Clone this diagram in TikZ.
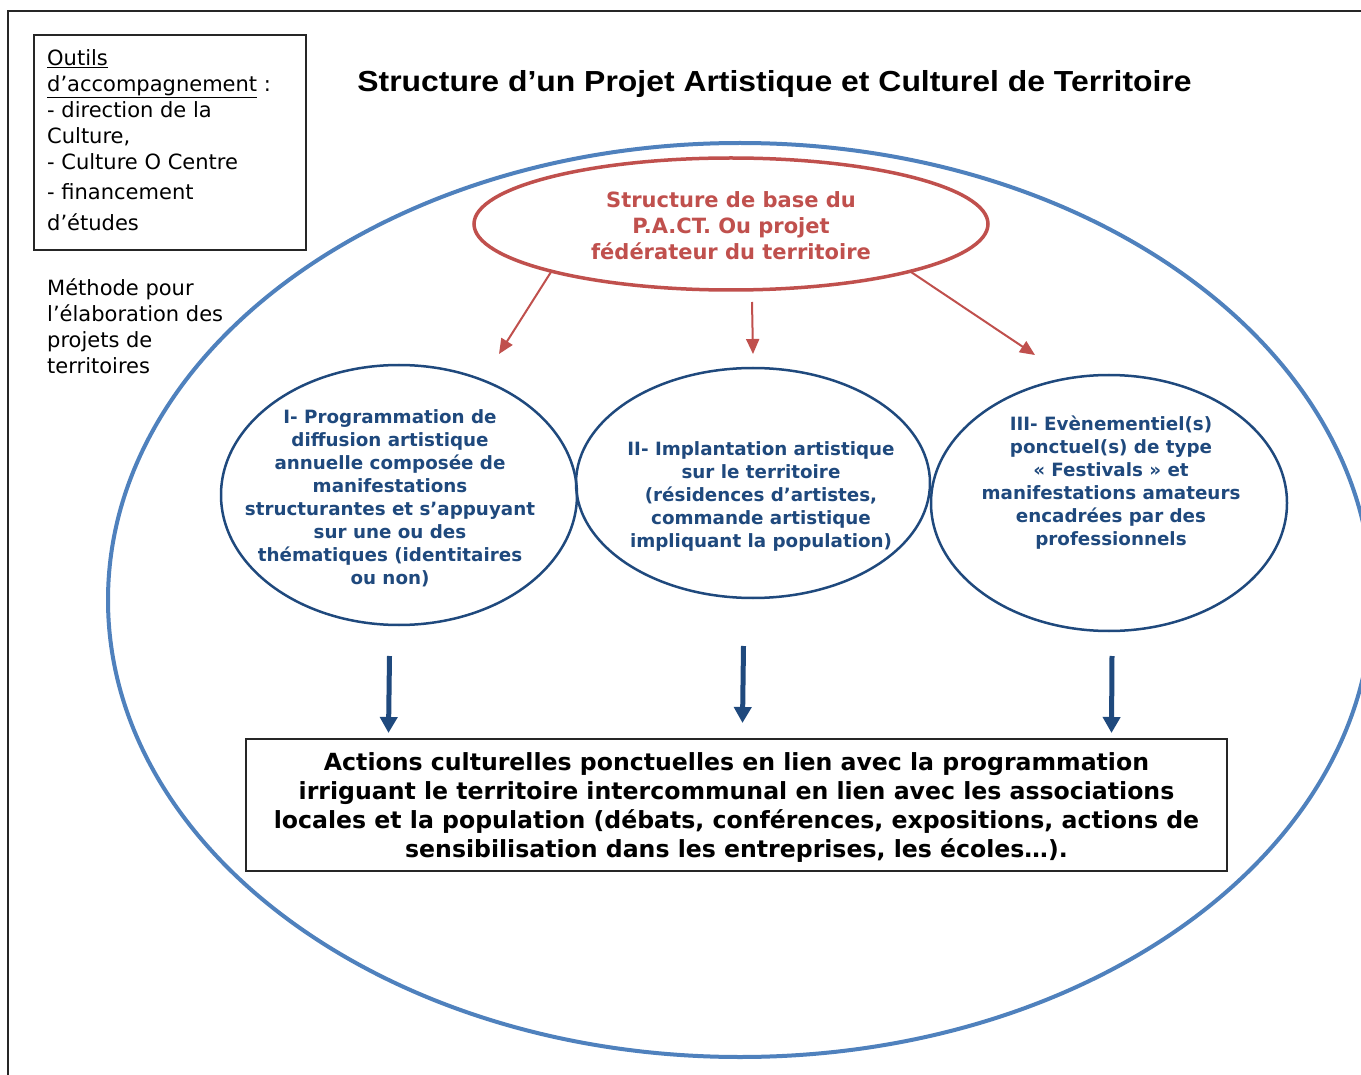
\documentclass[tikz,border=0pt]{standalone}
\usepackage{fontspec}
\setmainfont{DejaVu Sans}
\newfontfamily\titlefont{Liberation Sans}
\usetikzlibrary{arrows.meta,shapes.geometric}
\definecolor{bigblue}{HTML}{4F81BD}
\definecolor{darkblue}{HTML}{1F497D}
\definecolor{pactred}{HTML}{C0504D}
\tikzset{
  frameline/.style={line width=2pt,black!85},
  oval/.style={ellipse,draw,inner sep=0pt},
  circtext/.style={align=center,text=darkblue,font=\bfseries\fontsize{18.3}{23}\selectfont,inner sep=0pt},
  sidetext/.style={anchor=north west,align=left,inner sep=0pt,font=\fontsize{21}{26}\selectfont},
  redarrow/.style={draw=pactred,line width=2pt,-{Triangle[length=15pt,width=13pt]}},
  bluearrow/.style={draw=darkblue,line width=5pt,-{Triangle[length=16pt,width=17pt]}},
}
\begin{document}
\begin{tikzpicture}[x=1pt,y=-1pt]
\useasboundingbox (0,0) rectangle (1361,1075);
\fill[white] (0,0) rectangle (1361,1075);
\begin{scope}
\clip (0,0) rectangle (1361,1075);
% outer frame
\draw[frameline] (8,1080) -- (8,11) -- (1370,11);
% big ellipse
\node[oval,draw=bigblue,line width=4pt,minimum width=1264pt,minimum height=914pt] (big) at (740,600) {};
\end{scope}

% tools box
\node[draw,line width=1.8pt,black!85,minimum width=272pt,minimum height=215pt,inner sep=0pt] (toolsbox) at (170,142.5) {};
\node[sidetext] (tools) at (47,49)
{\underline{Outils}\\
\underline{d’accompagnement} :\\
- direction de la\\
Culture,\\
- Culture O Centre\\[4pt]
- financement\\[5pt]
d’études};

\node[sidetext] (methode) at (47,279)
{Méthode pour\\
l’élaboration des\\
projets de\\
territoires};

% title
\node[font=\titlefont\bfseries\fontsize{29}{32}\selectfont,inner sep=0pt] (title) at (774.5,84)
{\scalebox{1.1}[1]{Structure d’un Projet Artistique et Culturel de Territoire}};

% PACT ellipse
\node[oval,draw=pactred,line width=3.5pt,minimum width=514pt,minimum height=132pt] (pact) at (731,224) {};
\node[align=center,text=pactred,font=\bfseries\fontsize{21}{26}\selectfont,inner sep=0pt] (pacttext) at (731,226)
{Structure de base du\\ P.A.CT. Ou projet\\ fédérateur du territoire};

% three circles
\node[oval,draw=darkblue,line width=2.5pt,minimum width=356pt,minimum height=260pt] (c1) at (399,495) {};
\node[oval,draw=darkblue,line width=2.5pt,minimum width=354pt,minimum height=230pt] (c2) at (753,483) {};
\node[oval,draw=darkblue,line width=2.5pt,minimum width=356pt,minimum height=256pt] (c3) at (1109,503) {};

\node[circtext] (t1) at (390,498)
{I- Programmation de\\ diffusion artistique\\ annuelle composée de\\ manifestations\\ structurantes et s’appuyant\\ sur une ou des\\ thématiques (identitaires\\ ou non)};
\node[circtext] (t2) at (761,496)
{II- Implantation artistique\\ sur le territoire\\ (résidences d’artistes,\\ commande artistique\\ impliquant la population)};
\node[circtext] (t3) at (1111,483)
{III- Evènementiel(s)\\ ponctuel(s) de type\\ « Festivals » et\\ manifestations amateurs\\ encadrées par des\\ professionnels};

% bottom box
\node[draw,line width=1.8pt,black!85,minimum width=981pt,minimum height=132pt,inner sep=0pt] (actions) at (736.5,805) {};
\node[align=center,font=\bfseries\fontsize{23.6}{29}\selectfont,inner sep=0pt] (actionstext) at (736.5,807)
{Actions culturelles ponctuelles en lien avec la programmation\\
irriguant le territoire intercommunal en lien avec les associations\\
locales et la population (débats, conférences, expositions, actions de\\
sensibilisation dans les entreprises, les écoles…).};

% red arrows
\coordinate (r1s) at (551,272);
\coordinate (r1e) at (499,354);
\coordinate (r2s) at (752,302);
\coordinate (r2e) at (753,354);
\coordinate (r3s) at (911,272);
\coordinate (r3e) at (1035,355);
\draw[redarrow] (r1s) -- (r1e);
\draw[redarrow] (r2s) -- (r2e);
\draw[redarrow] (r3s) -- (r3e);

% blue arrows
\coordinate (b1s) at (389.5,656);
\coordinate (b1e) at (388.5,733);
\coordinate (b2s) at (743.5,646);
\coordinate (b2e) at (742.5,723);
\coordinate (b3s) at (1112,656);
\coordinate (b3e) at (1111.5,733);
\draw[bluearrow] (b1s) -- (b1e);
\draw[bluearrow] (b2s) -- (b2e);
\draw[bluearrow] (b3s) -- (b3e);
\end{tikzpicture}
\end{document}
